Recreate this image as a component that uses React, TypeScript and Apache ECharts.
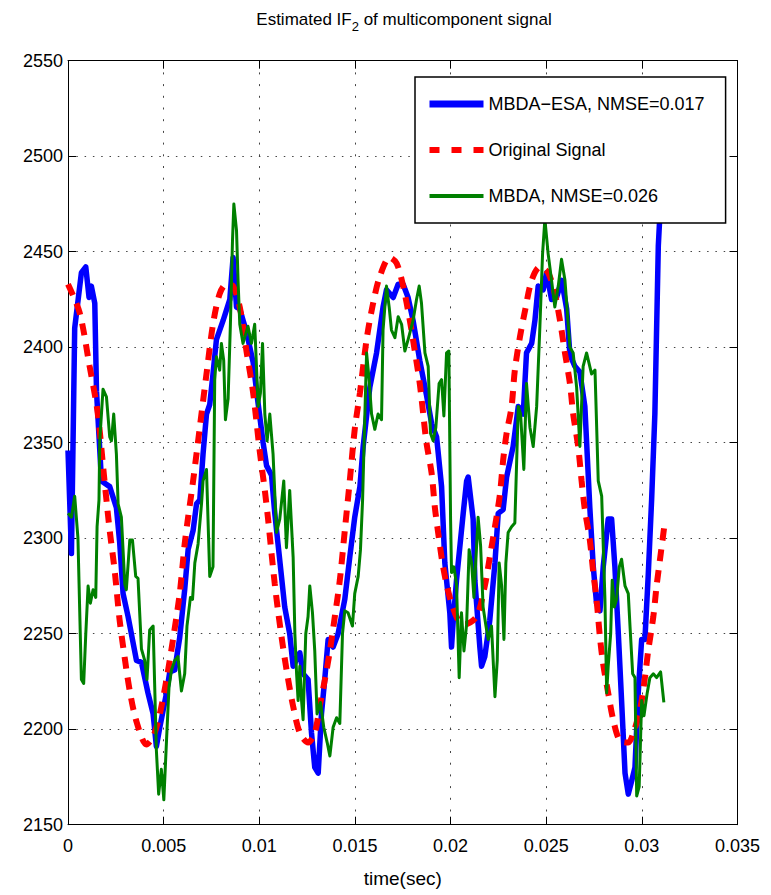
import React, { useEffect, useRef } from "react";
import * as echarts from "echarts";

// time in milliseconds, value in Hz
const blueTimeMs = [0, 0.18, 0.35, 0.70, 0.93, 1.10, 1.22, 1.40, 1.49, 1.75, 2.18, 2.53, 2.70, 2.88, 3.14, 3.58, 3.84, 4.18, 4.45, 4.62, 4.80, 5.15, 5.32, 5.58, 5.84, 6.10, 6.28, 6.54, 6.72, 6.89, 7.06, 7.24, 7.41, 7.58, 7.76, 8.11, 8.46, 8.63, 8.81, 8.98, 9.33, 9.68, 9.92, 10.20, 10.38, 10.64, 10.81, 10.98, 11.33, 11.59, 11.77, 12.12, 12.29, 12.55, 12.73, 12.90, 13.08, 13.25, 13.43, 13.60, 13.86, 14.12, 14.47, 14.73, 14.99, 15.26, 15.43, 15.78, 16.13, 16.47, 16.65, 17.00, 17.26, 17.52, 17.78, 18.04, 18.39, 18.74, 19.01, 19.27, 19.53, 19.70, 19.96, 20.05, 20.14, 20.31, 20.49, 20.66, 20.84, 20.92, 21.18, 21.27, 21.53, 21.62, 21.79, 22.05, 22.32, 22.49, 22.75, 22.93, 23.27, 23.54, 23.80, 23.97, 24.24, 24.41, 24.58, 24.84, 25.02, 25.28, 25.54, 25.81, 26.07, 26.24, 26.50, 26.76, 27.02, 27.28, 27.46, 27.63, 27.81, 27.98, 28.24, 28.42, 28.59, 28.77, 28.94, 29.12, 29.29, 29.47, 29.64, 29.81, 29.99, 30.16, 30.33, 30.51, 30.68, 30.86, 31.05, 31.17];
const blueValues = [2346, 2292, 2410, 2439, 2442, 2426, 2432, 2423, 2377, 2330, 2327, 2316, 2298, 2271, 2259, 2236, 2235, 2219, 2208, 2191, 2201, 2219, 2230, 2231, 2248, 2273, 2294, 2304, 2318, 2320, 2344, 2365, 2370, 2386, 2404, 2414, 2425, 2447, 2421, 2420, 2408, 2392, 2372, 2350, 2338, 2333, 2313, 2297, 2264, 2250, 2233, 2240, 2229, 2226, 2198, 2180, 2177, 2208, 2227, 2247, 2243, 2250, 2268, 2290, 2311, 2327, 2348, 2379, 2397, 2421, 2430, 2426, 2433, 2433, 2426, 2414, 2393, 2375, 2360, 2353, 2327, 2287, 2261, 2243, 2257, 2278, 2296, 2313, 2330, 2332, 2310, 2278, 2243, 2233, 2238, 2257, 2287, 2313, 2315, 2332, 2348, 2369, 2365, 2397, 2402, 2414, 2432, 2430, 2439, 2425, 2426, 2435, 2420, 2396, 2390, 2387, 2369, 2316, 2285, 2266, 2262, 2285, 2310, 2310, 2285, 2250, 2215, 2177, 2166, 2173, 2180, 2219, 2247, 2247, 2280, 2320, 2365, 2453, 2490, 2510];

const redTimeMs = [0, 0.61, 1.13, 1.49, 1.66, 1.83, 2.01, 2.18, 2.44, 2.70, 2.97, 3.23, 3.58, 4.10, 4.45, 4.80, 5.15, 5.49, 5.84, 6.10, 6.28, 6.54, 6.89, 7.24, 7.58, 7.93, 8.28, 8.63, 8.98, 9.33, 9.68, 10.03, 10.29, 10.46, 10.64, 10.81, 10.98, 11.24, 11.51, 11.77, 12.12, 12.55, 12.90, 13.16, 13.43, 13.69, 13.95, 14.21, 14.47, 14.73, 14.99, 15.26, 15.61, 15.95, 16.30, 16.82, 17.18, 17.52, 17.87, 18.13, 18.39, 18.57, 18.74, 19.01, 19.18, 19.35, 19.61, 19.96, 20.40, 20.75, 21.36, 21.79, 22.05, 22.32, 22.58, 22.75, 22.93, 23.19, 23.36, 23.62, 23.89, 24.24, 24.67, 25.10, 25.45, 25.72, 25.98, 26.24, 26.41, 26.67, 26.85, 27.02, 27.28, 27.46, 27.63, 27.81, 27.98, 28.24, 28.50, 28.85, 29.29, 29.55, 29.90, 30.16, 30.33, 30.60, 30.77, 30.95, 31.17];
const redValues = [2433, 2418, 2390, 2370, 2356, 2338, 2320, 2304, 2283, 2257, 2237, 2220, 2204, 2192, 2196, 2208, 2226, 2247, 2271, 2297, 2311, 2330, 2358, 2386, 2412, 2428, 2433, 2432, 2421, 2398, 2376, 2345, 2325, 2310, 2292, 2276, 2262, 2243, 2226, 2212, 2198, 2193, 2198, 2212, 2226, 2241, 2259, 2278, 2304, 2330, 2357, 2376, 2404, 2423, 2437, 2447, 2444, 2432, 2414, 2398, 2381, 2365, 2350, 2334, 2316, 2303, 2285, 2269, 2257, 2255, 2259, 2275, 2290, 2306, 2323, 2341, 2355, 2369, 2388, 2405, 2419, 2435, 2442, 2439, 2428, 2414, 2397, 2381, 2365, 2348, 2330, 2315, 2299, 2282, 2268, 2248, 2234, 2219, 2205, 2194, 2193, 2198, 2210, 2227, 2241, 2259, 2275, 2289, 2306];

const greenTimeMs = [0, 0.18, 0.35, 0.52, 0.70, 0.82, 0.93, 1.05, 1.17, 1.31, 1.45, 1.52, 1.62, 1.66, 1.83, 2.01, 2.18, 2.27, 2.39, 2.53, 2.62, 2.79, 2.97, 3.05, 3.23, 3.37, 3.54, 3.66, 3.84, 4.01, 4.13, 4.27, 4.45, 4.62, 4.74, 4.88, 5.01, 5.15, 5.28, 5.41, 5.58, 5.75, 5.93, 6.10, 6.22, 6.40, 6.51, 6.63, 6.80, 6.98, 7.06, 7.24, 7.41, 7.58, 7.67, 7.76, 7.93, 8.02, 8.14, 8.23, 8.37, 8.49, 8.60, 8.67, 8.81, 8.89, 8.98, 9.15, 9.41, 9.59, 9.76, 9.94, 10.06, 10.17, 10.29, 10.41, 10.55, 10.72, 10.90, 11.07, 11.28, 11.42, 11.59, 11.77, 11.86, 11.95, 12.03, 12.12, 12.21, 12.29, 12.43, 12.55, 12.64, 12.78, 12.90, 13.02, 13.20, 13.37, 13.55, 13.69, 13.86, 14.04, 14.21, 14.35, 14.47, 14.64, 14.87, 14.99, 15.17, 15.29, 15.40, 15.52, 15.61, 15.74, 15.87, 16.04, 16.21, 16.39, 16.47, 16.65, 16.79, 16.91, 17.09, 17.26, 17.44, 17.61, 17.78, 18.04, 18.22, 18.36, 18.48, 18.66, 18.83, 18.95, 19.09, 19.23, 19.40, 19.53, 19.65, 19.79, 19.91, 20.00, 20.05, 20.17, 20.31, 20.45, 20.57, 20.70, 20.84, 20.97, 21.10, 21.22, 21.44, 21.57, 21.70, 21.85, 21.97, 22.14, 22.32, 22.44, 22.54, 22.67, 22.79, 22.89, 23.01, 23.19, 23.36, 23.54, 23.66, 23.83, 23.97, 24.15, 24.32, 24.50, 24.67, 24.81, 24.93, 25.10, 25.28, 25.45, 25.63, 25.80, 25.98, 26.24, 26.41, 26.59, 26.76, 26.93, 27.11, 27.37, 27.55, 27.72, 27.90, 28.07, 28.16, 28.24, 28.37, 28.45, 28.56, 28.68, 28.82, 28.94, 29.12, 29.29, 29.38, 29.52, 29.64, 29.73, 29.86, 29.99, 30.11, 30.28, 30.42, 30.60, 30.77, 30.98, 31.15];
const greenValues = [2313, 2311, 2322, 2300, 2226, 2224, 2250, 2275, 2266, 2273, 2269, 2306, 2320, 2351, 2378, 2374, 2353, 2351, 2365, 2344, 2318, 2311, 2276, 2273, 2299, 2299, 2280, 2279, 2242, 2236, 2226, 2252, 2254, 2189, 2166, 2179, 2163, 2194, 2222, 2231, 2236, 2238, 2220, 2229, 2254, 2269, 2268, 2287, 2297, 2318, 2330, 2336, 2280, 2285, 2383, 2395, 2388, 2402, 2393, 2362, 2373, 2412, 2456, 2475, 2461, 2435, 2412, 2402, 2411, 2402, 2412, 2369, 2376, 2402, 2365, 2351, 2365, 2344, 2303, 2310, 2330, 2295, 2325, 2290, 2250, 2229, 2215, 2233, 2215, 2205, 2250, 2259, 2275, 2261, 2241, 2208, 2214, 2201, 2193, 2186, 2201, 2206, 2203, 2250, 2262, 2261, 2254, 2271, 2280, 2294, 2320, 2365, 2397, 2383, 2365, 2357, 2365, 2362, 2409, 2432, 2421, 2409, 2405, 2416, 2412, 2398, 2404, 2414, 2425, 2432, 2423, 2397, 2390, 2355, 2351, 2358, 2381, 2383, 2364, 2397, 2398, 2310, 2282, 2285, 2276, 2227, 2261, 2241, 2255, 2294, 2287, 2269, 2311, 2296, 2264, 2254, 2247, 2254, 2217, 2236, 2287, 2275, 2247, 2287, 2303, 2306, 2308, 2369, 2365, 2336, 2381, 2358, 2348, 2369, 2411, 2449, 2467, 2449, 2435, 2421, 2432, 2446, 2435, 2400, 2397, 2379, 2348, 2390, 2397, 2386, 2388, 2330, 2322, 2268, 2219, 2233, 2250, 2278, 2264, 2268, 2285, 2289, 2275, 2271, 2254, 2229, 2227, 2165, 2170, 2215, 2207, 2219, 2227, 2229, 2227, 2230, 2214];

const xTicks = { min: 0, max: 0.035, step: 0.005 };
const yTicks = { min: 2150, max: 2550, step: 50 };

const seriesNames = ["MBDA\u2212ESA, NMSE=0.017", "Original Signal", "MBDA, NMSE=0.026"];

const FONT = "'Liberation Sans', Arial, Helvetica, sans-serif";

function toPoints(times: number[], values: number[]) {
  return times.map((t, i) => [t / 1000, values[i]]);
}

export default function App() {
  const ref = useRef<HTMLDivElement>(null);
  useEffect(() => {
    if (!ref.current) return;
    const chart = echarts.init(ref.current, undefined, { renderer: "svg" });
    const grid = { left: 68, right: 33.5, top: 60.7, bottom: 70.3 };
    const gridDotsX = { color: "#444", width: 1, type: [2, 9.7] as any };
    const gridDotsY = { color: "#444", width: 1, type: [1.5, 6.8] as any };
    const tickFmt = (v: number) => String(+v.toFixed(3));
    chart.setOption({
      animation: false,
      backgroundColor: "#fff",
      grid,
      graphic: [
        {
          type: "text",
          x: 404,
          y: 5,
          style: {
            text: "{n|Estimated IF}{s|2}{n| of multicomponent signal}",
            align: "center",
            rich: {
              n: { fontFamily: FONT, fontSize: 17, lineHeight: 28, verticalAlign: "middle", fill: "#000" },
              s: { fontFamily: FONT, fontSize: 13, lineHeight: 14, verticalAlign: "bottom", fill: "#000" },
            },
          },
        },
      ],
      legend: {
        orient: "vertical",
        left: 415,
        top: 77,
        backgroundColor: "#fff",
        borderColor: "#000",
        borderWidth: 1.5,
        borderRadius: 0,
        padding: [14, 21, 14, 11],
        itemWidth: 54,
        itemHeight: 20,
        itemGap: 20,
        itemStyle: { opacity: 0 },
        textStyle: { fontFamily: FONT, fontSize: 18, color: "#000", lineHeight: 26 },
        data: [
          { name: seriesNames[0], lineStyle: { width: 7 }, itemStyle: { opacity: 0 } },
          { name: seriesNames[1], lineStyle: { width: 6, type: [10, 12] }, itemStyle: { opacity: 0 } },
          { name: seriesNames[2], lineStyle: { width: 4 }, itemStyle: { opacity: 0 } },
        ],
        z: 10,
      },
      xAxis: [
        {
          type: "value",
          min: xTicks.min,
          max: xTicks.max,
          interval: xTicks.step,
          position: "bottom",
          name: "time(sec)",
          nameLocation: "middle",
          nameGap: 44,
          nameTextStyle: { fontFamily: FONT, fontSize: 19, color: "#000" },
          axisLine: { show: true, onZero: false, lineStyle: { color: "#000", width: 1 } },
          axisTick: { show: true, inside: true, length: 8, lineStyle: { color: "#000" } },
          axisLabel: { fontFamily: FONT, fontSize: 18, color: "#000", margin: 12, formatter: tickFmt },
          splitLine: { show: true, lineStyle: gridDotsX },
        },
        {
          type: "value",
          min: xTicks.min,
          max: xTicks.max,
          interval: xTicks.step,
          position: "top",
          axisLine: { show: true, onZero: false, lineStyle: { color: "#000", width: 1 } },
          axisTick: { show: true, inside: true, length: 8, lineStyle: { color: "#000" } },
          axisLabel: { show: false },
          splitLine: { show: false },
        },
      ],
      yAxis: [
        {
          type: "value",
          min: yTicks.min,
          max: yTicks.max,
          interval: yTicks.step,
          position: "left",
          axisLine: { show: true, onZero: false, lineStyle: { color: "#000", width: 1 } },
          axisTick: { show: true, inside: true, length: 8, lineStyle: { color: "#000" } },
          axisLabel: { fontFamily: FONT, fontSize: 18, color: "#000", margin: 5, formatter: (v: number) => String(v) },
          splitLine: { show: true, lineStyle: gridDotsY },
        },
        {
          type: "value",
          min: yTicks.min,
          max: yTicks.max,
          interval: yTicks.step,
          position: "right",
          axisLine: { show: true, onZero: false, lineStyle: { color: "#000", width: 1 } },
          axisTick: { show: true, inside: true, length: 8, lineStyle: { color: "#000" } },
          axisLabel: { show: false },
          splitLine: { show: false },
        },
      ],
      series: [
        {
          name: seriesNames[0],
          type: "line",
          data: toPoints(blueTimeMs, blueValues),
          showSymbol: false,
          symbol: "none",
          lineStyle: { color: "#0000ff", width: 5.5, join: "round" },
          itemStyle: { color: "#0000ff" },
          z: 2,
        },
        {
          name: seriesNames[1],
          type: "line",
          data: toPoints(redTimeMs, redValues),
          showSymbol: false,
          symbol: "none",
          smooth: 0.3,
          lineStyle: { color: "#ff0000", width: 6, type: [12, 9], cap: "butt" },
          itemStyle: { color: "#ff0000" },
          z: 3,
        },
        {
          name: seriesNames[2],
          type: "line",
          data: toPoints(greenTimeMs, greenValues),
          showSymbol: false,
          symbol: "none",
          lineStyle: { color: "#008000", width: 3, join: "round" },
          itemStyle: { color: "#008000" },
          z: 4,
        },
      ],
    });
    return () => chart.dispose();
  }, []);
  return <div ref={ref} style={{ width: 771, height: 895, position: "absolute", left: 0, top: 0 }} />;
}
